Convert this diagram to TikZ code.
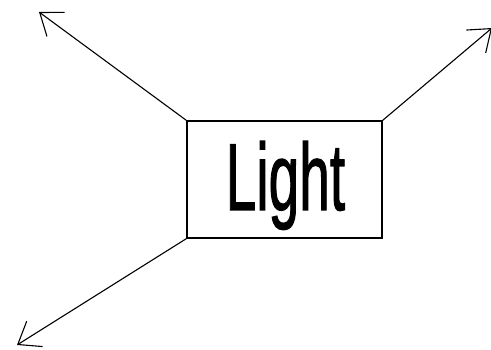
\documentclass[tikz,border=0pt]{standalone}
\usepackage{fontspec}
\setmainfont{Liberation Sans}
\newfontfamily\lightfont[FakeBold=1.5]{Liberation Sans}
\usetikzlibrary{arrows.meta}
\begin{document}
\begin{tikzpicture}[x=1pt,y=-1pt,
  box/.style={draw,line width=1.3pt,minimum width=195pt,minimum height=117pt,inner sep=0pt},
  ray/.style={line width=1.1pt,-{Straight Barb[length=20pt,width=30pt,line width=1.1pt]}}]
\useasboundingbox (0,0) rectangle (491,350);
\node[box] (light) at (284.5,179.5) {};
\node[anchor=base,inner sep=0pt] (txt) at (285.5,210) {\scalebox{0.58}[1]{\fontsize{95}{95}\lightfont Light}};
\coordinate (tl) at (39,12);
\coordinate (tr) at (492,28);
\coordinate (bl) at (17,345);
\draw[ray] (light.north west) -- (tl);
\draw[ray] (light.north east) -- (tr);
\draw[ray] (light.south west) -- (bl);
\end{tikzpicture}
\end{document}
